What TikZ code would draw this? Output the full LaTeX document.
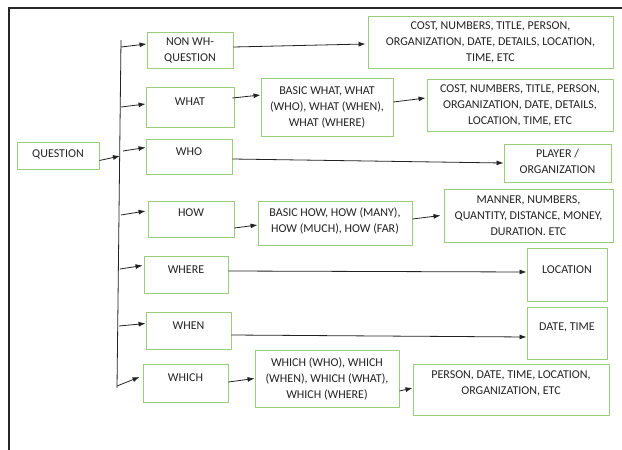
\documentclass[tikz,border=0pt]{standalone}
\usepackage{fontspec}
\setmainfont{Carlito}
\usepackage{tikz}
\usetikzlibrary{arrows.meta, positioning}
\usepackage{xcolor}

\definecolor{boxgreen}{RGB}{155,206,122}
\definecolor{inkgray}{RGB}{35,35,35}

\begin{document}
\begin{tikzpicture}[
        x=1pt, y=-1pt,
        box/.style={draw=boxgreen, line width=0.9pt, align=center, inner sep=2pt,
            text=inkgray, font=\fontsize{12}{16}\selectfont},
        arrow/.style={-{Latex[length=7pt, width=5pt]}, line width=0.8pt, inkgray}
    ]
        \useasboundingbox (0,0) rectangle (622,450);

        % Page frame
        \draw[line width=1.4pt, black!85] (622,8) -- (9,8) -- (9,450);

        % Root
        \node[box, minimum width=82pt, minimum height=27pt, text depth=3pt] (question) at (58,155.5) {QUESTION};

        % Question types
        \node[box, minimum width=86pt, minimum height=36pt] (nonwh) at (190,50) {NON WH-\\QUESTION};
        \node[box, minimum width=88pt, minimum height=40pt, text depth=10pt] (what) at (190,107) {WHAT};
        \node[box, minimum width=86pt, minimum height=35pt, text depth=9pt] (who) at (189,156.5) {WHO};
        \node[box, minimum width=86pt, minimum height=36pt, text depth=12pt] (how) at (191,219) {HOW};
        \node[box, minimum width=84pt, minimum height=37pt, text depth=9pt] (where) at (186,274.5) {WHERE};
        \node[box, minimum width=85pt, minimum height=37pt, text depth=9pt] (when) at (188.5,330.5) {WHEN};
        \node[box, minimum width=85pt, minimum height=38pt, text depth=10pt] (which) at (185.5,383) {WHICH};

        % Sub types
        \node[box, minimum width=132pt, minimum height=58pt] (basicwhat) at (327,107) {BASIC WHAT, WHAT\\(WHO), WHAT (WHEN),\\WHAT (WHERE)};
        \node[box, minimum width=154pt, minimum height=44pt, text depth=6pt] (basichow) at (335,223) {BASIC HOW, HOW (MANY),\\HOW (MUCH), HOW (FAR)};
        \node[box, minimum width=144pt, minimum height=57pt] (whichwho) at (327,378.5) {WHICH (WHO), WHICH\\(WHEN), WHICH (WHAT),\\WHICH (WHERE)};

        % Answer types
        \node[box, minimum width=245pt, minimum height=52pt] (cost1) at (490.5,42) {COST, NUMBERS, TITLE, PERSON,\\ORGANIZATION, DATE, DETAILS, LOCATION,\\TIME, ETC};
        \node[box, minimum width=186pt, minimum height=52pt] (cost2) at (520,105) {COST, NUMBERS, TITLE, PERSON,\\ORGANIZATION, DATE, DETAILS,\\LOCATION, TIME, ETC};
        \node[box, minimum width=107pt, minimum height=38pt, text depth=3pt] (player) at (557.5,163) {PLAYER /\\ORGANIZATION};
        \node[box, minimum width=169pt, minimum height=53pt] (manner) at (528.5,215.5) {MANNER, NUMBERS,\\QUANTITY, DISTANCE, MONEY,\\DURATION. ETC};
        \node[box, minimum width=80pt, minimum height=53pt, text depth=9pt] (location) at (567,274.5) {LOCATION};
        \node[box, minimum width=80pt, minimum height=52pt, text depth=12pt] (datetime) at (567,333) {DATE, TIME};
        \node[box, minimum width=196pt, minimum height=51pt, text depth=13pt] (person) at (511,389.5) {PERSON, DATE, TIME, LOCATION,\\ORGANIZATION, ETC};

        % Trunk
        \coordinate (trunktop) at (121,40);
        \coordinate (trunkbot) at (117,388);
        \coordinate (qin) at (120,156);
        \coordinate (b1) at (121,47);
        \coordinate (b2) at (121,107);
        \coordinate (b3) at (123,151);
        \coordinate (b4) at (121,215);
        \coordinate (b5) at (120,269);
        \coordinate (b6) at (119,326);
        \coordinate (b7) at (117,386);
        \draw[line width=0.8pt, inkgray] (trunktop) -- (trunkbot);

        % Arrows
        \draw[arrow] ([yshift=-5pt]question.east) -- (qin);
        \draw[arrow] (b1) -- ([yshift=6pt]nonwh.west);
        \draw[arrow] (b2) -- ([yshift=3pt]what.west);
        \draw[arrow] (b3) -- ([yshift=9pt]who.west);
        \draw[arrow] (b4) -- ([xshift=-2pt, yshift=8pt]how.west);
        \draw[arrow] (b5) -- ([xshift=-1pt, yshift=9pt]where.west);
        \draw[arrow] (b6) -- ([yshift=7pt]when.west);
        \draw[arrow] (b7) -- ([xshift=-3pt, yshift=6pt]which.west);

        \draw[arrow] ([yshift=3pt]nonwh.east) -- ([xshift=-2pt, yshift=-2pt]cost1.west);
        \draw[arrow] ([xshift=-2pt, yshift=9pt]what.east) -- ([yshift=12pt]basicwhat.west);
        \draw[arrow] ([yshift=5pt]basicwhat.east) -- ([xshift=-1pt, yshift=7pt]cost2.west);
        \draw[arrow] ([yshift=-2.5pt]who.east) -- (player.west);
        \draw[arrow] ([yshift=-9pt]how.east) -- ([yshift=-2pt]basichow.west);
        \draw[arrow] ([yshift=4pt]basichow.east) -- ([xshift=-3pt]manner.west);
        \draw[arrow] ([yshift=3.5pt]where.east) -- ([yshift=2.5pt]location.west);
        \draw[arrow] ([yshift=-4.5pt]when.east) -- ([yshift=-4pt]datetime.west);
        \draw[arrow] ([yshift=1pt]which.east) -- (whichwho.west);
        \draw[arrow] ([yshift=-12.5pt]whichwho.east) -- ([yshift=1.5pt]person.west);
    \end{tikzpicture}
\end{document}
